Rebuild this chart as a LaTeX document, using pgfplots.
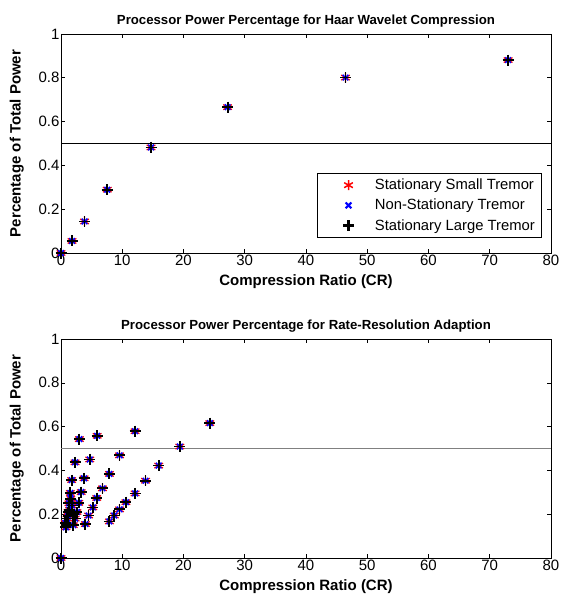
\documentclass[border=0pt]{standalone}
\usepackage{pgfplots}
\usepackage{pgfplotstable}
\pgfplotsset{compat=1.18}
\usepackage{fontspec}
\setmainfont{Liberation Sans}
\usetikzlibrary{plotmarks}

\pgfplotstableread{
x y
0 0
1.8 0.055
3.85 0.144
7.55 0.289
14.7 0.482
27.2 0.666
46.45 0.801
73.0 0.881
}\haar

\pgfplotstableread{
x y
0 0
24.3 0.616
19.4 0.509
15.95 0.422
13.8 0.353
12.1 0.295
10.6 0.255
9.56 0.222
8.7 0.194
7.9 0.167
12.1 0.579
9.56 0.469
7.9 0.384
6.77 0.318
5.84 0.274
5.2 0.231
4.5 0.194
3.98 0.155
5.9 0.558
4.7 0.45
3.77 0.364
3.3 0.301
2.9 0.252
2.6 0.21
2.3 0.18
2.0 0.15
3.0 0.543
2.3 0.437
1.74 0.356
1.52 0.297
1.3 0.25
1.15 0.21
1.0 0.18
0.9 0.15
1.6 0.27
1.4 0.22
1.2 0.19
0.8 0.14
0.7 0.16
2.0 0.2
1.8 0.24
}\rra

\pgfplotsset{
  myaxis/.style={
    width=490pt, height=219pt, scale only axis,
    xmin=0, xmax=80, ymin=0, ymax=1,
    xtick={0,10,...,80}, ytick={0,0.2,...,1},
    yticklabels={0,0.2,0.4,0.6,0.8,1},
    tick align=inside, major tick length=4pt,
    axis line style={line width=0.8pt},
    every tick/.style={black, line width=0.6pt},
    /pgf/number format/assume math mode=true,
    tick label style={font=\fontsize{15}{17}\selectfont},
    xticklabel style={yshift=2pt},
    yticklabel style={xshift=2pt},
    label style={font=\fontsize{15}{17}\selectfont\bfseries},
    title style={font=\fontsize{13.2}{15}\selectfont\bfseries, yshift=-3pt},
    xlabel={Compression Ratio (CR)},
    ylabel={Percentage of Total Power},
    xlabel style={yshift=-3pt},
    ylabel style={yshift=8pt},
    clip=false,
  },
  legimg/.style n args={4}{legend image code/.code={%
      \path (0pt,0pt) (50pt,0pt);
      \begin{scope}[shift={(26pt,0pt)}, draw=#4, fill=#4, mark size=#3, solid]
        \pgfsetlinewidth{#2}%
        \pgfuseplotmark{#1}
      \end{scope}}},
  sred/.style={only marks, mark=asterisk, mark size=5pt, red, mark options={line width=1.2pt}, legimg={asterisk}{1.5pt}{5pt}{red}},
  sblue/.style={only marks, mark=x, mark size=4pt, blue, mark options={line width=1.5pt}, legimg={x}{2pt}{4pt}{blue}},
  sblack/.style={only marks, mark=+, mark size=5.5pt, black, mark options={line width=1.8pt}, legimg={+}{2.2pt}{5.5pt}{black}},
}

\begin{document}
\begin{tikzpicture}
\useasboundingbox (0,0) rectangle (562pt,-596pt);
\begin{axis}[myaxis, at={(61pt,-34pt)}, anchor=north west,
  title={Processor Power Percentage for Haar Wavelet Compression},
  legend style={at={(0.982,0.068)}, anchor=south east, draw=black, line width=0.8pt,
    font=\fontsize{14.8}{17}\selectfont, row sep=4pt, inner xsep=5pt, inner ysep=4pt},
  legend cell align=left]
\addplot[sred] table {\haar};
\addlegendentry{Stationary Small Tremor}
\addplot[sblue] table {\haar};
\addlegendentry{Non-Stationary Tremor}
\addplot[sblack] table {\haar};
\addlegendentry{Stationary Large Tremor}
\addplot[black, line width=0.6pt, no marks, forget plot] coordinates {(0,0.5) (80,0.5)};
\end{axis}
\begin{axis}[myaxis, at={(61pt,-339pt)}, anchor=north west,
  title={Processor Power Percentage for Rate-Resolution Adaption}]
\addplot[gray, line width=1pt, no marks] coordinates {(0,0.5) (80,0.5)};
\addplot[sred] table {\rra};
\addplot[sblue] table {\rra};
\addplot[sblack] table {\rra};
\end{axis}
\end{tikzpicture}
\end{document}
